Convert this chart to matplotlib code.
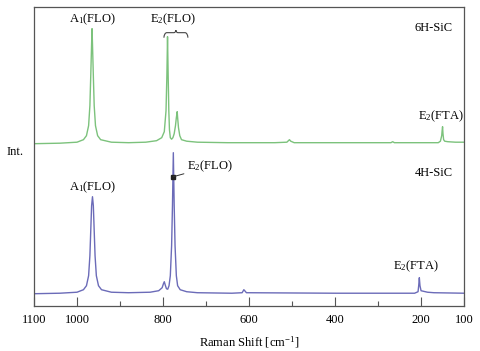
import matplotlib.pyplot as plt
from matplotlib.path import Path
import matplotlib.patches as mpatches

plt.rcParams['font.family'] = ['Liberation Serif', 'DejaVu Serif']
plt.rcParams['mathtext.fontset'] = 'custom'
plt.rcParams['mathtext.rm'] = 'Liberation Serif'
plt.rcParams['mathtext.it'] = 'Liberation Serif:italic'

# spectra (Raman shift cm-1, intensity in arbitrary units, offset included)
shift_6h = [1100, 1040, 1000, 985, 978, 973, 970, 968, 966, 965, 964, 962, 960, 957, 952, 945,
            920, 880, 840, 815, 803, 797, 793, 791, 789.5, 788, 786.5, 785, 783, 780, 777,
            774, 771, 769, 767, 766, 764, 761, 757, 745, 720, 650, 540, 512, 506, 503, 495,
            270, 266, 262, 160, 155, 152, 151, 150, 149, 147.5, 145, 138, 120, 100]
int_6h = [162, 162.5, 163.5, 166, 170, 180, 200, 230, 262, 277, 262, 230, 200, 180, 170, 166,
          163.5, 163, 163.5, 165, 168, 174, 195, 230, 269, 230, 195, 176, 168, 166.5, 168,
          172, 180, 188, 194, 188, 178, 170, 166, 164.5, 163.5, 163, 163, 163.5, 166, 164.5, 163,
          163, 164, 163, 163, 164.5, 170, 175, 179, 172, 166, 164.5, 164, 163.5, 163.5]

shift_4h = [1100, 1040, 1000, 985, 978, 973, 970, 968, 966, 964, 962, 960, 958, 955, 950, 943,
            920, 880, 830, 810, 802, 799, 797, 795, 792, 789, 786, 783, 780, 778, 776, 774,
            772, 769, 766, 760, 745, 720, 640, 616, 612, 610, 606, 400, 215, 207, 205.5, 204,
            202.5, 200, 195, 185, 170, 100]
int_4h = [12, 12.5, 13.5, 16, 20, 30, 50, 75, 100, 109, 100, 75, 50, 30, 20, 16,
          13.5, 13, 13.5, 15, 18, 22, 24, 21, 17, 16.5, 20, 30, 60, 100, 153, 100,
          60, 30, 20, 16, 14, 13, 12.5, 13, 16, 15, 13, 12.5, 12.5, 14, 20, 28,
          20, 15, 14.5, 13.5, 13, 12.5]

green = '#7cc27c'
blue = '#6b6bb8'

fig = plt.figure(figsize=(4.8, 3.51), dpi=100)
ax = fig.add_axes([0.0708, 0.129, 0.896, 0.852])

ax.plot(shift_6h, int_6h, color=green, lw=1.0)
ax.plot(shift_4h, int_4h, color=blue, lw=1.0)

ax.set_xlim(1100, 100)
ax.set_ylim(0, 299)
ax.set_xticks([1100, 1000, 800, 600, 400, 200, 100])
ax.set_xticks([900, 700, 500, 300], minor=True)
ax.tick_params(axis='x', which='major', direction='in', length=6.5, width=0.8,
               color='#555555', labelsize=9, pad=6)
ax.tick_params(axis='x', which='minor', direction='in', length=3.6, width=0.8, color='#555555')
ax.set_yticks([])
for s in ax.spines.values():
    s.set_color('#555555')
    s.set_linewidth(0.9)

ax.set_xlabel('Raman Shift [cm$^{\\mathregular{-1}}$]', fontsize=9, labelpad=6)
ax.text(-0.045, 0.515, 'Int.', transform=ax.transAxes, ha='center', va='center', fontsize=9)

fs = 9
# upper spectrum labels
ax.text(965, 286, 'A$_1$(FLO)', ha='center', va='center', fontsize=fs)
ax.text(778, 286, 'E$_2$(FLO)', ha='center', va='center', fontsize=fs)
ax.text(155, 189, 'E$_2$(FTA)', ha='center', va='center', fontsize=fs)
ax.text(170, 278, '6H-SiC', ha='center', va='center', fontsize=fs)

# curly brace over the E2 doublet
x1, x2, yb, yt = 798, 742, 268, 274
xm = (x1 + x2) / 2
verts = [(x1, yb), (x1 - 1, yt - 1), (x1 - 7, yt - 1), (xm + 5, yt - 1),
         (xm, yt - 1), (xm, yt + 1.5),
         (xm, yt + 1.5), (xm, yt - 1), (xm - 5, yt - 1), (x2 + 7, yt - 1),
         (x2 + 1, yt - 1), (x2, yb)]
codes = [Path.MOVETO, Path.CURVE3, Path.CURVE3, Path.LINETO,
         Path.CURVE3, Path.CURVE3, Path.MOVETO,
         Path.CURVE3, Path.CURVE3, Path.LINETO,
         Path.CURVE3, Path.CURVE3]
ax.add_patch(mpatches.PathPatch(Path(verts, codes), fill=False, lw=0.8, color='#444444'))

# lower spectrum labels
ax.text(965, 118, 'A$_1$(FLO)', ha='center', va='center', fontsize=fs)
ax.annotate('E$_2$(FLO)', xy=(776, 129), xytext=(745, 139), ha='left', va='center',
            fontsize=fs,
            arrowprops=dict(arrowstyle='-', color='#333333', lw=0.7, shrinkA=0, shrinkB=0))
ax.plot([776], [129], marker='s', ms=2.2, color='#222222')
ax.text(212, 39, 'E$_2$(FTA)', ha='center', va='center', fontsize=fs)
ax.text(170, 133, '4H-SiC', ha='center', va='center', fontsize=fs)

fig.savefig('out.png', dpi=100)
